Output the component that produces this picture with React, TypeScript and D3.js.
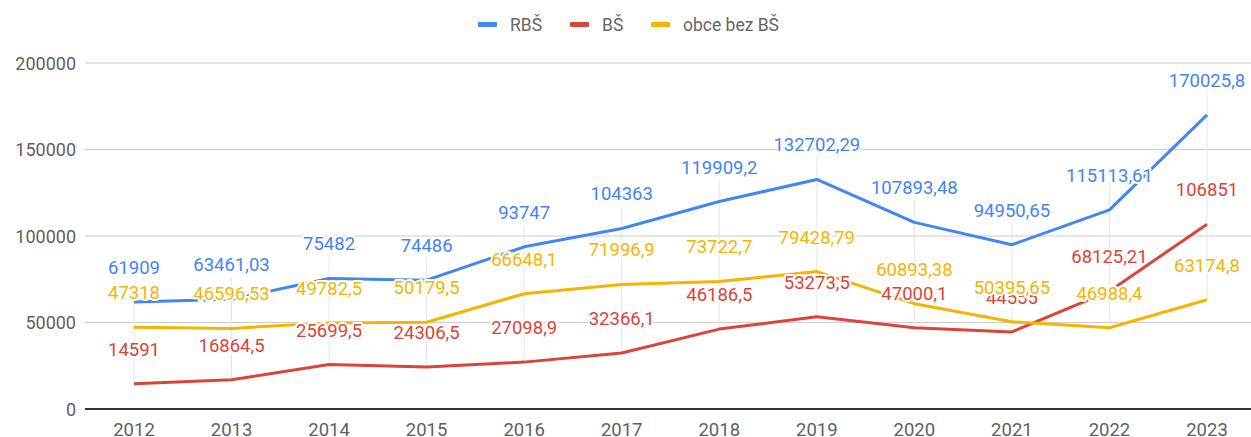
import React from "react";
import * as d3 from "d3";

const years = ["2012","2013","2014","2015","2016","2017","2018","2019","2020","2021","2022","2023"];
const rbs = [61909, 63461.03, 75482, 74486, 93747, 104363, 119909.2, 132702.29, 107893.48, 94950.65, 115113.61, 170025.8];
const bs = [14591, 16864.5, 25699.5, 24306.5, 27098.9, 32366.1, 46186.5, 53273.5, 47000.1, 44555, 68125.21, 106851];
const obce = [47318, 46596.53, 49782.5, 50179.5, 66648.1, 71996.9, 73722.7, 79428.79, 60893.38, 50395.65, 46988.4, 63174.8];
const yTicks = [0, 50000, 100000, 150000, 200000];
const seriesNames = ["RBŠ", "BŠ", "obce bez BŠ"];
const colors = ["#4285F4", "#DB4437", "#F4B400"];

const W = 1251, H = 437;
const FONT = "Roboto, 'Noto Sans', Arial, sans-serif";

export default function App() {
  const x = d3.scalePoint<string>().domain(years).range([134, 1207]);
  const y = d3.scaleLinear().domain([0, 200000]).range([409, 63]);
  const plotLeft = 85;
  const series = [rbs, bs, obce];
  const line = d3.line<number>().x((_, i) => x(years[i])!).y((d) => y(d));
  const fmt = (v: number) => String(v).replace(".", ",");

  const legendItems = [
    { x: 478, text: seriesNames[0] },
    { x: 570, text: seriesNames[1] },
    { x: 651, text: seriesNames[2] },
  ];

  return (
    <svg width={W} height={H} style={{ position: "absolute", left: 0, top: 0, background: "#fff" }} fontFamily={FONT}>
      {/* gridlines */}
      {yTicks.map((t) => (
        <line key={t} x1={plotLeft} x2={W} y1={y(t)} y2={y(t)} stroke={t === 0 ? "#333" : "#cccccc"} strokeWidth={t === 0 ? 2 : 1} />
      ))}
      {yTicks.map((t) => (
        <text key={"yl" + t} x={76} y={y(t) + 6.5} textAnchor="end" fontSize={18} fill="#5f5f5f">{t}</text>
      ))}
      {/* faint stems */}
      {years.map((yr, i) => {
        const vals = series.map((s) => s[i]);
        const top = y(d3.max(vals)!);
        const bot = y(d3.min(vals)!);
        return <line key={"st" + yr} x1={x(yr)} x2={x(yr)} y1={top - 22} y2={bot} stroke="#e6e6e6" strokeWidth={1} />;
      })}
      {/* lines */}
      {series.map((s, k) => (
        <path key={"ln" + k} d={line(s)!} fill="none" stroke={colors[k]} strokeWidth={3} strokeLinejoin="round" />
      ))}
      {/* labels */}
      {series.map((s, k) =>
        s.map((v, i) => (
          <text key={"lb" + k + "_" + i} x={x(years[i])} y={y(v) - 28} textAnchor="middle" fontSize={18.5}
            fill={colors[k]} stroke="#fff" strokeWidth={4} paintOrder="stroke" strokeLinejoin="round">{fmt(v)}</text>
        ))
      )}
      {/* x axis labels */}
      {years.map((yr) => (
        <text key={"xl" + yr} x={x(yr)} y={436} textAnchor="middle" fontSize={18.5} fill="#5f5f5f">{yr}</text>
      ))}
      {/* legend */}
      {legendItems.map((it, k) => (
        <g key={"lg" + k}>
          <rect x={it.x} y={22} width={19} height={5} rx={1} fill={colors[k]} />
          <text x={it.x + 32} y={30.5} fontSize={17.5} fill="#666">{it.text}</text>
        </g>
      ))}
    </svg>
  );
}
